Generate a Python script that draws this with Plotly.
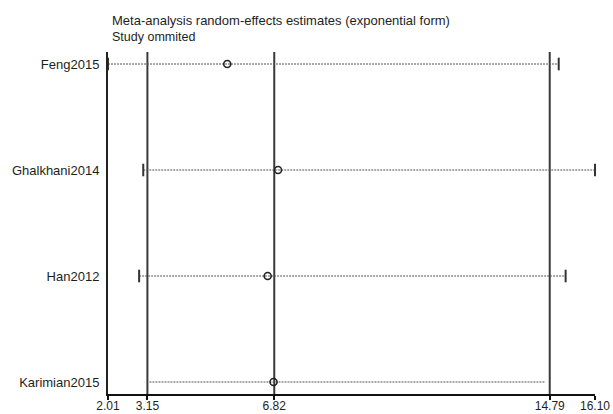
import plotly.graph_objects as go

studies = ["Feng2015", "Ghalkhani2014", "Han2012", "Karimian2015"]
estimates = [5.46, 6.93, 6.63, 6.80]
lower_ci = [2.01, 3.03, 2.91, 3.21]
upper_ci = [15.05, 16.10, 15.25, 14.65]
show_caps = [True, True, True, False]
ref_lines = [3.15, 6.82, 14.79]
tick_vals = [2.01, 3.15, 6.82, 14.79, 16.10]
tick_text = ["2.01", "3.15", "6.82", "14.79", "16.10"]
title_lines = ["Meta-analysis random-effects estimates (exponential form)", "Study ommited"]

ypos = list(range(1, len(studies) + 1))
FONT = "Liberation Sans, Arial, sans-serif"
INK = "#1e1e1e"

fig = go.Figure()

# dotted CI lines
for i, y in enumerate(ypos):
    fig.add_trace(go.Scatter(
        x=[lower_ci[i], upper_ci[i]], y=[y, y], mode="lines",
        line=dict(color="#555555", width=1, dash="2px,1px"),
        hoverinfo="skip", showlegend=False, cliponaxis=False))

# end caps
cx, cy = [], []
for i, y in enumerate(ypos):
    if show_caps[i]:
        cx += [lower_ci[i], upper_ci[i]]
        cy += [y, y]
fig.add_trace(go.Scatter(
    x=cx, y=cy, mode="markers",
    marker=dict(symbol="line-ns-open", size=9, color="#333333",
                line=dict(color="#333333", width=2)),
    hoverinfo="skip", showlegend=False, cliponaxis=False))

# reference vertical lines
for v in ref_lines:
    fig.add_shape(type="line", xref="x", yref="paper", x0=v, x1=v, y0=0, y1=1,
                  line=dict(color="#3a3a3a", width=2), layer="below")

# point estimates
fig.add_trace(go.Scatter(
    x=estimates, y=ypos, mode="markers",
    marker=dict(symbol="circle-open", size=7, color="#222222", line=dict(width=1.6, color="#222222")),
    showlegend=False, cliponaxis=False))

pad = 12 / 106
fig.update_layout(
    width=613, height=414,
    margin=dict(l=108, r=18, t=52, b=20, autoexpand=False),
    paper_bgcolor="white", plot_bgcolor="white",
    font=dict(family=FONT, size=13, color=INK),
    xaxis=dict(range=[2.01, 16.10], tickvals=tick_vals, ticktext=tick_text,
               showgrid=False, zeroline=False, showline=True, linecolor="#111111", linewidth=1.5,
               ticks="outside", ticklen=4, tickwidth=1.5, tickcolor="#111111",
               ticklabelstandoff=-4, tickfont=dict(size=12, color=INK)),
    yaxis=dict(range=[len(studies) + pad, 1 - pad], autorange=False, tickvals=ypos, ticktext=studies,
               showgrid=False, zeroline=False, showline=True, linecolor="#222222", linewidth=2,
               ticks="", ticklabelstandoff=4, tickfont=dict(size=13, color=INK)),
    annotations=[
        dict(text=title_lines[0], xref="paper", yref="paper", x=0, y=1.092,
             xanchor="left", yanchor="middle", showarrow=False, xshift=2,
             font=dict(size=13, color=INK)),
        dict(text=title_lines[1], xref="paper", yref="paper", x=0, y=1.044,
             xanchor="left", yanchor="middle", showarrow=False, xshift=2,
             font=dict(size=12.5, color=INK)),
    ],
)

fig.write_html("out.html",
               post_script="document.body.style.margin='0';document.body.style.overflow='hidden';")
